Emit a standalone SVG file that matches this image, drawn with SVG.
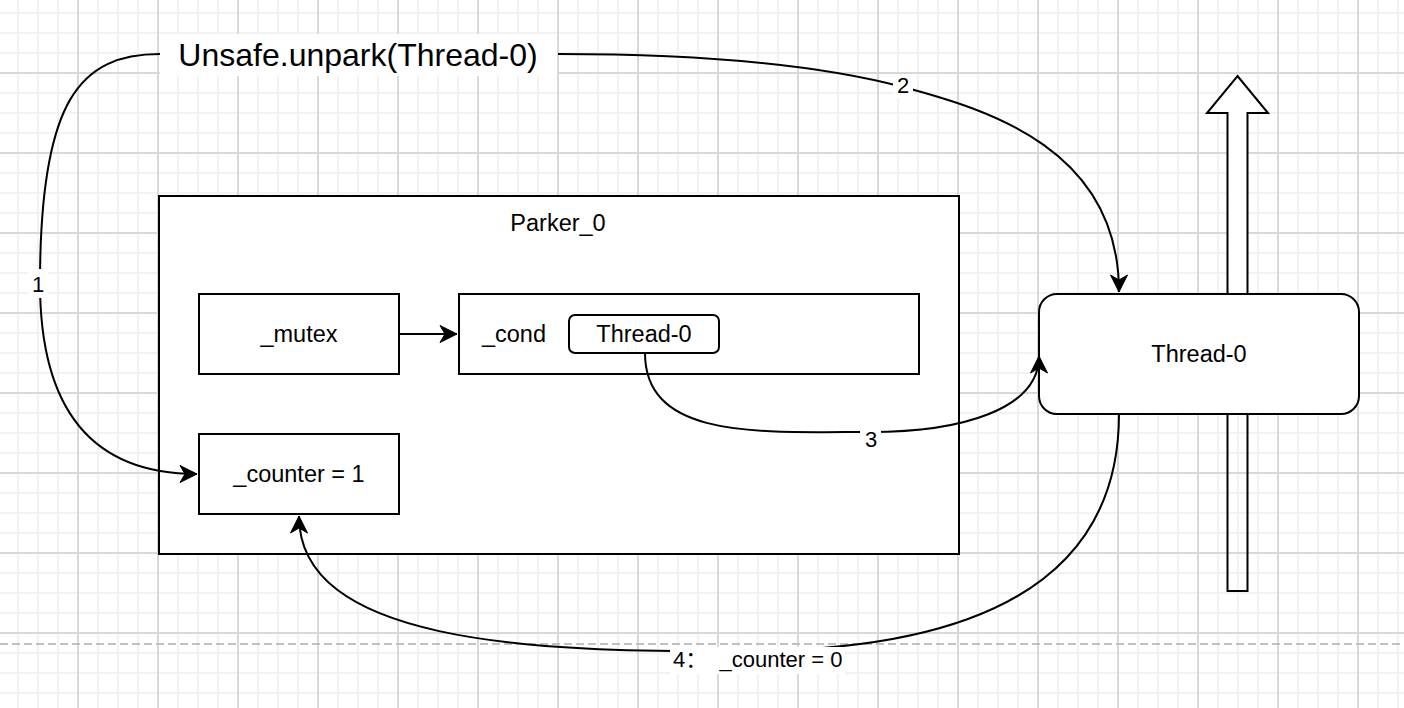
<svg xmlns="http://www.w3.org/2000/svg" width="1404" height="708" viewBox="0 0 1404 708">
<style>
.box{fill:#fff;stroke:#000;stroke-width:2}
.edge{fill:none;stroke:#000;stroke-width:2}
.t{font-family:"Liberation Sans",Arial,Helvetica,sans-serif;font-size:22px;fill:#000;text-anchor:middle}
.n{font-size:23.5px}
.lbl{font-family:"Liberation Sans",Arial,Helvetica,"Noto Sans CJK SC",sans-serif;font-size:22px;fill:#000}
</style>
<defs>
<pattern id="minor" patternUnits="userSpaceOnUse" x="8" y="3" width="20" height="20">
<rect x="9" y="0" width="2" height="20" fill="#f2f2f2"/>
<rect x="0" y="9" width="20" height="2" fill="#f2f2f2"/>
</pattern>
<pattern id="major" patternUnits="userSpaceOnUse" x="38" y="33" width="80" height="80">
<rect x="39" y="0" width="2" height="80" fill="#d8d8d8"/>
<rect x="0" y="39" width="80" height="2" fill="#d8d8d8"/>
</pattern>
<marker id="arr" markerUnits="userSpaceOnUse" viewBox="-18 -10 19 20" refX="0" refY="0" markerWidth="19" markerHeight="20" orient="auto">
<path d="M0,0 L-17,-8.5 L-12,0 L-17,8.5 Z" fill="#000" stroke="#000" stroke-width="1" stroke-linejoin="miter"/>
</marker>
</defs>
<rect x="0" y="0" width="1404" height="708" fill="#fff"/>
<rect x="0" y="0" width="1404" height="708" fill="url(#minor)"/>
<rect x="0" y="0" width="1404" height="708" fill="url(#major)"/>
<line x1="0" y1="644" x2="1404" y2="644" stroke="#c0c0c0" stroke-width="2" stroke-dasharray="8 4"/>

<g id="big-arrow">
<polygon points="1237.5,76 1268,113 1247.5,113 1247.5,414 1227.5,414 1227.5,113 1207,113" fill="#fff" stroke="none"/>
<polygon points="1237.5,76 1268,113 1247.5,113 1247.5,591 1227.5,591 1227.5,113 1207,113" fill="none" stroke="#000" stroke-width="2"/>
</g>

<g id="parker">
<rect class="box" x="159" y="196" width="800" height="358"/>
<text class="t n" x="558" y="231">Parker_0</text>
</g>
<g id="mutex">
<rect class="box" x="199" y="294" width="200" height="80"/>
<text class="t n" x="299" y="342">_mutex</text>
</g>
<g id="cond">
<rect class="box" x="459" y="294" width="460" height="80"/>
<text class="t n" x="514" y="342">_cond</text>
</g>
<g id="cond-thread">
<rect class="box" x="569" y="315" width="150" height="38" rx="6"/>
<text class="t n" x="644" y="342">Thread-0</text>
</g>
<g id="counter">
<rect class="box" x="199" y="434" width="200" height="80"/>
<text class="t n" x="299" y="482">_counter = 1</text>
</g>
<g id="thread0">
<rect class="box" x="1039" y="294" width="320" height="120" rx="18"/>
<text class="t n" x="1199" y="362">Thread-0</text>
</g>
<g id="unpark">
<rect x="160" y="34" width="397" height="42" fill="#fff"/>
<text class="t" x="358" y="66" style="font-size:32px">Unsafe.unpark(Thread-0)</text>
</g>

<g id="connectors">
<path class="edge" d="M160,54 C80,54 40,100 40,283 C40,420 100,474 197,474" marker-end="url(#arr)"/>
<path class="edge" d="M558,54 C700,54 820,65 903,87 C990,110 1119,150 1119,292" marker-end="url(#arr)"/>
<path class="edge" d="M399,334 L457,334" marker-end="url(#arr)"/>
<path class="edge" d="M645,353 C645,440 760,432 870,432 C960,432 1039,410 1039,356" marker-end="url(#arr)"/>
<path class="edge" d="M1119,414 C1119,580 980,648 757,651 C520,654 299,640 299,516" marker-end="url(#arr)"/>
<rect x="28" y="269" width="20" height="29" fill="#fff"/>
<text class="t" x="38" y="292">1</text>
<rect x="893" y="74" width="20" height="24" fill="#fff"/>
<text class="t" x="903" y="93">2</text>
<rect x="860" y="428" width="21" height="24" fill="#fff"/>
<text class="t" x="871" y="447">3</text>
<rect x="670" y="647" width="175" height="27" fill="#fff"/>
<text class="lbl" x="673" y="667" xml:space="preserve">4：  _counter = 0</text>
</g>
</svg>
